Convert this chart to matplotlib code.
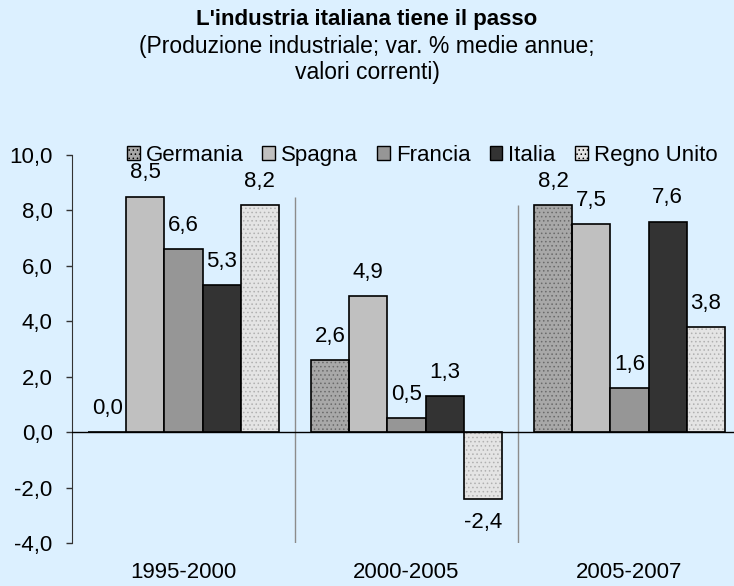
import numpy as np
import matplotlib
matplotlib.use("Agg")
import matplotlib.pyplot as plt
from matplotlib.patches import Patch

# data
periods = ["1995-2000", "2000-2005", "2005-2007"]
countries = ["Germania", "Spagna", "Francia", "Italia", "Regno Unito"]
germania = [0.0, 2.6, 8.2]
spagna = [8.5, 4.9, 7.5]
francia = [6.6, 0.5, 1.6]
italia = [5.3, 1.3, 7.6]
regno_unito = [8.2, -2.4, 3.8]
yticks = [-4, -2, 0, 2, 4, 6, 8, 10]

series = [germania, spagna, francia, italia, regno_unito]
faces = ["#A8A8A8", "#C0C0C0", "#969696", "#333333", "#E4E4E4"]
hatches = ["....", None, None, None, "...."]
hatch_cols = ["#6A6A6A", None, None, None, "#B0B0B0"]
bg = "#DCF0FF"

plt.rcParams["font.family"] = ["Liberation Sans", "DejaVu Sans"]
plt.rcParams["hatch.linewidth"] = 0.6

fig = plt.figure(figsize=(7.34, 5.86), dpi=100, facecolor=bg)
ax = fig.add_axes([72 / 734, 43 / 586, 669 / 734, 388 / 586])
ax.set_facecolor(bg)

x = np.arange(len(periods))
w = 0.171
fs = 16

for i, (vals, fc) in enumerate(zip(series, faces)):
    pos = x + (i - 2) * w
    if hatches[i]:
        ax.bar(pos, vals, w, color=fc, edgecolor=hatch_cols[i], hatch=hatches[i],
               linewidth=0, zorder=3)
        ax.bar(pos, vals, w, fill=False, edgecolor="black", linewidth=1.2, zorder=4)
    else:
        ax.bar(pos, vals, w, color=fc, edgecolor="black", linewidth=1.2, zorder=3)
    for xp, v in zip(pos, vals):
        off = 17 if v >= 0 else -17
        ax.annotate(f"{v:.1f}".replace(".", ","), (xp, v), xytext=(0, off),
                    textcoords="offset points", ha="center", va="center", fontsize=fs)

# separators between periods
ax.vlines(0.5, -4, 8.5, color="#8C8C8C", linewidth=1, zorder=2)
ax.vlines(1.5, -4, 8.2, color="#8C8C8C", linewidth=1, zorder=2)
ax.axhline(0, color="black", linewidth=1, zorder=5)

ax.set_xlim(-0.5, 2.5)
ax.set_ylim(-4, 10)
ax.set_yticks(yticks)
ax.set_yticklabels([f"{t:.1f}".replace(".", ",") for t in yticks], fontsize=fs)
ax.set_xticks(x)
ax.set_xticklabels(periods, fontsize=fs)
ax.tick_params(axis="x", length=0, pad=14)
ax.tick_params(axis="y", direction="out", length=4, width=1, color="#333333", pad=10)
for s in ["top", "right", "bottom"]:
    ax.spines[s].set_visible(False)
ax.spines["left"].set_color("#333333")

handles = []
for i, fc in enumerate(faces):
    if hatches[i]:
        handles.append(Patch(facecolor=fc, hatch=hatches[i], edgecolor="black", linewidth=1))
    else:
        handles.append(Patch(facecolor=fc, edgecolor="black", linewidth=1))
fig.legend(handles, countries, loc="center", bbox_to_anchor=(422 / 734, 1 - 155 / 586),
           ncol=5, frameon=False, fontsize=fs, handlelength=0.58, handleheight=0.58,
           handletextpad=0.27, columnspacing=0.85, borderpad=0, borderaxespad=0)

fig.text(0.5, 1 - 20 / 586, "L'industria italiana tiene il passo", ha="center", va="center",
         fontsize=16, fontweight="bold")
fig.text(0.5, 1 - 47 / 586, "(Produzione industriale; var. % medie annue;", ha="center",
         va="center", fontsize=16.5)
fig.text(0.5, 1 - 73 / 586, "valori correnti)", ha="center", va="center", fontsize=16.5)

fig.savefig("out.png", dpi=100, facecolor=bg)
